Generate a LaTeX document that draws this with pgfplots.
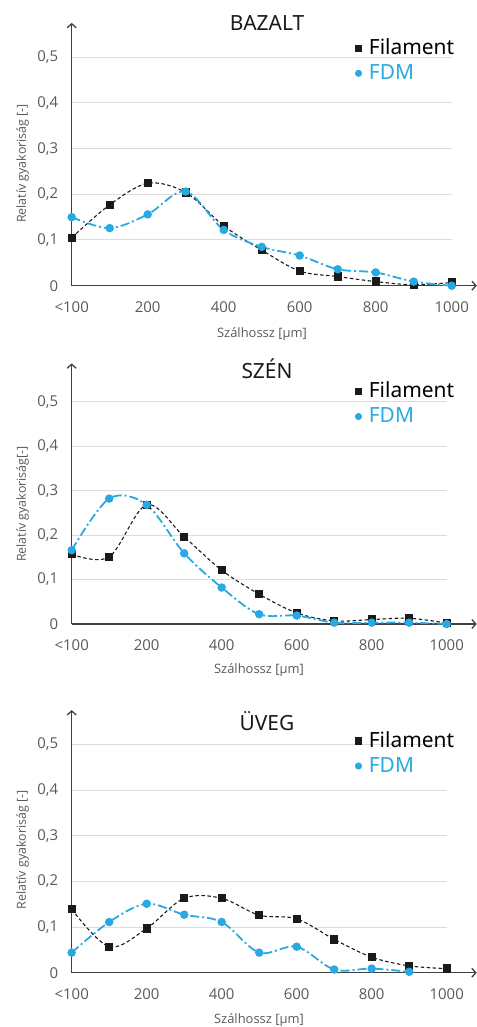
\documentclass[border=0pt]{standalone}
\usepackage{pgfplots}
\pgfplotsset{compat=1.18}
\usepackage{fontspec}
\setmainfont{Open Sans}
\newfontfamily\titlefont{Noto Sans}
\usetikzlibrary{arrows.meta}
\definecolor{fdm}{HTML}{29A9E1}
\definecolor{fil}{HTML}{1A1A1A}
\definecolor{tickc}{HTML}{595959}
\definecolor{axl}{HTML}{404040}
\definecolor{grd}{HTML}{DCDCDC}
\pgfplotsset{
 panel/.style={
  scale only axis, axis lines=left, xmin=0, ymin=0, clip=false,
  axis line style={axl, line width=1.3bp},
  x axis line style={-{Straight Barb[length=4bp,width=9bp]}},
  y axis line style={-{Straight Barb[length=4bp,width=9bp]}},
  xtick={0,2,4,6,8,10}, xticklabels={<100,200,400,600,800,1000},
  ytick={0,0.1,0.2,0.3,0.4,0.5}, yticklabels={0,{0,1},{0,2},{0,3},{0,4},{0,5}},
  major tick length=0,
  tick label style={font=\fontsize{15}{15}\selectfont, text=tickc},
  xticklabel style={yshift=-12bp},
  yticklabel style={xshift=-10bp},
  legend style={draw=none, fill=none, inner sep=0pt, row sep=3bp,
    font=\titlefont\fontsize{21}{21}\selectfont, cells={anchor=west},
    nodes={inner sep=2bp, text height=15bp, text depth=3bp}},
 },
 filst/.style={fil, line width=1.1bp, dash pattern=on 3.5bp off 2.5bp, smooth, tension=0.55,
   mark=square*, mark size=3.6bp, mark options={solid, fill=fil},
   legend image code/.code={\draw[##1,only marks,mark size=3bp] plot coordinates {(0bp,0bp)}; \path (-3.8bp,0bp) (7.5bp,0bp);}},
 fdmst/.style={fdm, line width=1.8bp, dash pattern=on 9bp off 3bp on 2bp off 3bp, smooth, tension=0.55,
   mark=*, mark size=3.3bp, mark options={solid, fill=fdm},
   legend image code/.code={\draw[##1,only marks,mark size=2.6bp] plot coordinates {(0bp,0bp)}; \path (-3.8bp,0bp) (7.5bp,0bp);}},
}
\newcommand\grids{%
  \addplot[grd, line width=1bp, forget plot] coordinates {(0,0.1)(10,0.1)};
  \addplot[grd, line width=1bp, forget plot] coordinates {(0,0.2)(10,0.2)};
  \addplot[grd, line width=1bp, forget plot] coordinates {(0,0.3)(10,0.3)};
  \addplot[grd, line width=1bp, forget plot] coordinates {(0,0.4)(10,0.4)};
  \addplot[grd, line width=1bp, forget plot] coordinates {(0,0.5)(10,0.5)};
}
\begin{document}
\begin{tikzpicture}
\path[use as bounding box] (0,0) rectangle (477bp,-1027bp);
% ---------- Panel 1 ----------
\begin{axis}[panel, at={(71.7bp,-285.7bp)}, anchor=south west,
  width=405.1bp, height=262.8bp, xmax=10.66, ymax=0.575,
  legend style={at={(0.696,0.946)}, anchor=north west}]
\grids
\addplot[filst] coordinates {(0,0.105)(1,0.177)(2,0.224)(3,0.204)(4,0.131)(5,0.078)(6,0.032)(7,0.020)(8,0.009)(9,0.002)(10,0.007)};
\addlegendentry{Filament}
\addplot[fdmst] coordinates {(0,0.150)(1,0.126)(2,0.156)(3,0.206)(4,0.122)(5,0.085)(6,0.066)(7,0.036)(8,0.029)(9,0.009)(10,0.000)};
\addlegendentry{\textcolor{fdm}{FDM}}
\end{axis}
\node[anchor=base, font=\titlefont\fontsize{21}{21}\selectfont, text=fil] at (267bp,-30bp) {BAZALT};
\node[rotate=90, font=\fontsize{12.5}{12.5}\selectfont, text=tickc] at (22.7bp,-163.5bp) {Relatív gyakoriság [-]};
\node[anchor=base, font=\fontsize{13}{13}\selectfont, text=tickc] at (262bp,-337bp) {Szálhossz [µm]};
% ---------- Panel 2 ----------
\begin{axis}[panel, at={(71.7bp,-624bp)}, anchor=south west,
  width=405bp, height=260.6bp, xmax=10.8, ymax=0.586,
  legend style={at={(0.696,0.935)}, anchor=north west}]
\grids
\addplot[filst] coordinates {(0,0.157)(1,0.151)(2,0.268)(3,0.196)(4,0.121)(5,0.067)(6,0.025)(7,0.007)(8,0.010)(9,0.013)(10,0.002)};
\addlegendentry{Filament}
\addplot[fdmst] coordinates {(0,0.166)(1,0.282)(2,0.268)(3,0.159)(4,0.082)(5,0.022)(6,0.019)(7,0.003)(8,0.003)(9,0.003)(10,0.000)};
\addlegendentry{\textcolor{fdm}{FDM}}
\end{axis}
\node[anchor=base, font=\titlefont\fontsize{21}{21}\selectfont, text=fil] at (267bp,-378.5bp) {SZÉN};
\node[rotate=90, font=\fontsize{12.5}{12.5}\selectfont, text=tickc] at (22.7bp,-504bp) {Relatív gyakoriság[-]};
\node[anchor=base, font=\fontsize{13}{13}\selectfont, text=tickc] at (259bp,-673bp) {Szálhossz [µm]};
% ---------- Panel 3 ----------
\begin{axis}[panel, at={(71.7bp,-972.7bp)}, anchor=south west,
  width=405bp, height=262.6bp, xmax=10.8, ymax=0.575,
  legend style={at={(0.696,0.925)}, anchor=north west}]
\grids
\addplot[filst] coordinates {(0,0.139)(1,0.057)(2,0.097)(3,0.163)(4,0.163)(5,0.126)(6,0.118)(7,0.073)(8,0.034)(9,0.015)(10,0.009)};
\addlegendentry{Filament}
\addplot[fdmst] coordinates {(0,0.044)(1,0.111)(2,0.151)(3,0.127)(4,0.111)(5,0.044)(6,0.057)(7,0.007)(8,0.009)(9,0.002)};
\addlegendentry{\textcolor{fdm}{FDM}}
\end{axis}
\node[anchor=base, font=\titlefont\fontsize{21}{21}\selectfont, text=fil] at (267bp,-730bp) {ÜVEG};
\node[rotate=90, font=\fontsize{12.5}{12.5}\selectfont, text=tickc] at (22.7bp,-850bp) {Relatív gyakoriság [-]};
\node[anchor=base, font=\fontsize{13}{13}\selectfont, text=tickc] at (259bp,-1023bp) {Szálhossz [µm]};
\end{tikzpicture}
\end{document}
